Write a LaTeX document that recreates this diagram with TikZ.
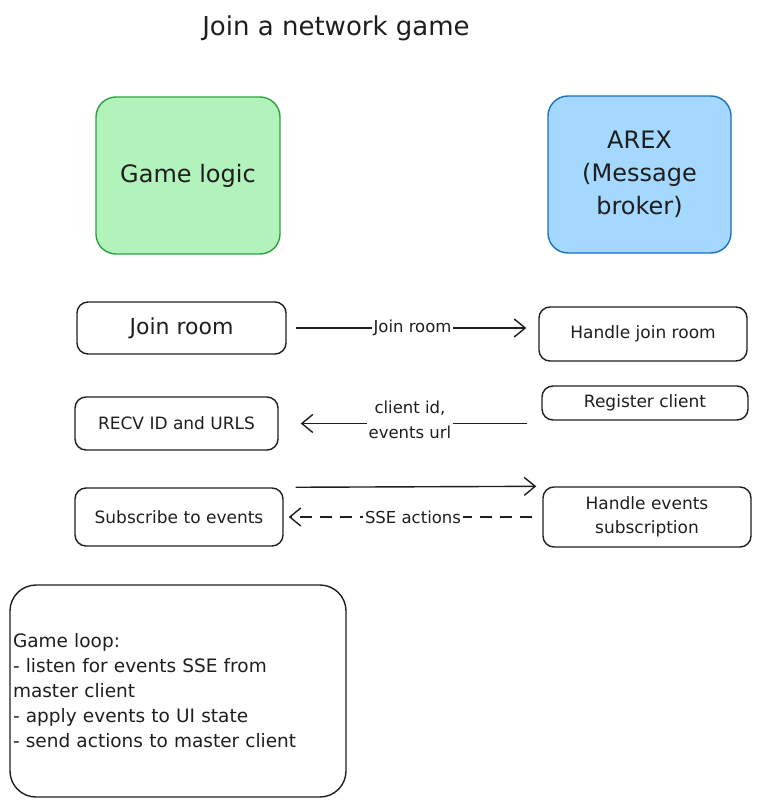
\documentclass[tikz,border=0pt]{standalone}
\usepackage{fontspec}
\setmainfont{DejaVu Sans}
\usetikzlibrary{positioning,calc,arrows.meta}

\definecolor{ink}{HTML}{1E1E1E}
\definecolor{logicfill}{HTML}{B2F2BB}
\definecolor{logicdraw}{HTML}{2F9E44}
\definecolor{brokerfill}{HTML}{A5D8FF}
\definecolor{brokerdraw}{HTML}{1971C2}

\tikzset{
    stepbox/.style={draw=ink, line width=1.4pt, rounded corners=11pt, align=center, text=ink, inner sep=0pt},
    flow/.style={-{Straight Barb[length=11pt,width=18pt,line width=1.4pt]}, line width=1.4pt, draw=ink},
    flowlabel/.style={fill=white, text=ink, align=center, inner sep=2pt, font=\fontsize{16.5}{25}\selectfont},
}

\begin{document}
\begin{tikzpicture}[x=1pt, y=-1pt]
        \useasboundingbox (0,0) rectangle (762,805);

        % Title
        \node[text=ink, font=\fontsize{26}{30}\selectfont] (title) at (336,28) {Join a network game};

        % Actors
        \node[stepbox, fill=logicfill, draw=logicdraw, rounded corners=20pt,
              minimum width=184, minimum height=157, font=\fontsize{24}{28}\selectfont]
              (logic) at (188,175.5) {Game logic};
        \node[stepbox, fill=brokerfill, draw=brokerdraw, rounded corners=20pt,
              minimum width=183, minimum height=157, font=\fontsize{24}{33}\selectfont]
              (arex) at (639.5,174.5) {AREX\\(Message\\broker)};

        % Client side steps
        \node[stepbox, minimum width=209, minimum height=52, font=\fontsize{22}{26}\selectfont]
              (joinroom) at (181.5,328) {Join room};
        \node[stepbox, minimum width=203, minimum height=53, font=\fontsize{17}{20}\selectfont]
              (recv) at (176.5,423.5) {RECV ID and URLS};
        \node[stepbox, minimum width=208, minimum height=58, font=\fontsize{17}{20}\selectfont]
              (subscribe) at (179,517) {Subscribe to events};

        % Broker side steps
        \node[stepbox, minimum width=208, minimum height=54, font=\fontsize{17}{20}\selectfont]
              (handlejoin) at (643,334) {Handle join room};
        \node[stepbox, minimum width=206, minimum height=34, font=\fontsize{17}{20}\selectfont]
              (register) at (645,403) {Register client};
        \node[stepbox, minimum width=208, minimum height=60, font=\fontsize{17}{24}\selectfont]
              (handleev) at (647,517) {Handle events\\subscription};

        % Game loop
        \node[stepbox, rounded corners=26pt, minimum width=336, minimum height=212,
              text width=330, align=left, font=\fontsize{18.5}{25}\selectfont]
              (gameloop) at (178,691) {Game loop:\\- listen for events SSE from\\master client\\- apply events to UI state\\- send actions to master client};

        % Messages
        \draw[flow, shorten <=9pt, shorten >=12pt] (joinroom.east) -- (handlejoin.west |- joinroom.east)
            node[flowlabel, midway] {Join room};
        \draw[flow, shorten <=14pt, shorten >=22pt] (register.west |- recv.east) -- (recv.east)
            node[flowlabel, midway, yshift=4pt, inner ysep=0pt] {client id,\\events url};
        \draw[flow, shorten <=12pt, shorten >=6pt] (subscribe.north east) -- (handleev.north west);
        \draw[flow, dashed, dash pattern=on 12pt off 8pt, shorten <=10pt, shorten >=5pt]
            (handleev.west) -- (subscribe.east) node[flowlabel, midway] {SSE actions};
    \end{tikzpicture}
\end{document}
